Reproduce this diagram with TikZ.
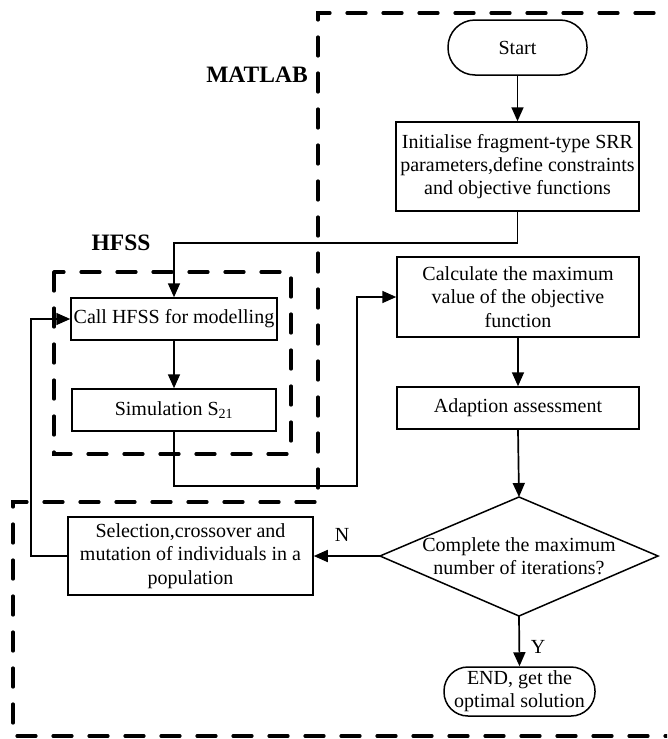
\documentclass[tikz,border=0pt]{standalone}
\usepackage{fontspec}
\setmainfont{Liberation Serif}
\usetikzlibrary{arrows.meta}
\tikzset{
  box/.style={draw,line width=1.5pt,inner sep=0pt,align=center,
    font=\fontsize{20}{23.3}\selectfont},
  term/.style={box,rounded corners=#1},
  conn/.style={line width=1.7pt,-{Triangle[length=14pt,width=12pt]}},
  outline/.style={line width=1.5pt,line join=miter},
  region/.style={line width=3.2pt,line cap=round,dash pattern=on 19pt off 17pt},
  tag/.style={inner sep=0pt,font=\fontsize{20}{23.3}\selectfont},
  bigtag/.style={inner sep=0pt,font=\fontsize{23.5}{26}\selectfont\bfseries}
}
\begin{document}
\begin{tikzpicture}[x=1pt,y=-1pt]
\useasboundingbox (0,0) rectangle (667,739);
% regions
\begin{scope}
\clip (0,0) rectangle (667,739);
\draw[region] (690,13) -- (318,13) -- (318,502) -- (13,502) -- (13,736) -- (690,736);
\draw[region] (54,272) rectangle (291,454);
\end{scope}
\node[bigtag] (matlab) at (257,75) {MATLAB};
\node[bigtag] (hfss) at (121,243) {HFSS};
% nodes
\node[term=27pt,minimum width=139pt,minimum height=55pt] (start) at (517.5,47.5) {Start};
\node[box,minimum width=243pt,minimum height=89pt] (init) at (517.5,166.5)
  {Initialise fragment-type SRR\\parameters,define constraints\\and objective functions};
\node[box,minimum width=206pt,minimum height=42pt] (call) at (174,319) {Call HFSS for modelling};
\node[box,minimum width=204pt,minimum height=42pt] (sim) at (174,410) {Simulation S\textsubscript{21}};
\node[box,minimum width=242pt,minimum height=80pt] (calc) at (518,297)
  {Calculate the maximum\\value of the objective\\function};
\node[box,minimum width=242pt,minimum height=42pt] (adapt) at (518,408) {Adaption assessment};
% decision diamond
\coordinate (dtop) at (519,497);
\coordinate (dright) at (658,556);
\coordinate (dbot) at (519,616);
\coordinate (dleft) at (380,556);
\draw[outline] (dtop) -- (dright) -- (dbot) -- (dleft) -- cycle;
\node[tag,align=center] (cond) at (519,556) {Complete the maximum\\number of iterations?};
\node[box,minimum width=245pt,minimum height=78pt] (sel) at (190.5,556)
  {Selection,crossover and\\mutation of individuals in a\\population};
\node[term=24pt,minimum width=151pt,minimum height=49pt] (end) at (519.5,691.5)
  {END, get the\\optimal solution};
% coordinates
\coordinate (j1) at (174,243);
\coordinate (j2) at (357,486);
\coordinate (j3) at (31,556);
% connectors
\draw[conn] (start) -- (init);
\draw[conn] (init.south) |- (j1) -- (call.north);
\draw[conn] (call) -- (sim);
\draw[conn] (sim.south) |- (j2) |- (calc.west);
\draw[conn] (calc) -- (adapt);
\draw[conn] (adapt.south) -- (dtop);
\draw[conn] (dleft) -- (sel.east);
\draw[conn] (dbot) -- (end.north);
\draw[conn] (sel.west) -- (j3) |- (call.west);
\node[tag] (nlab) at (342,535) {N};
\node[tag] (ylab) at (538,647) {Y};
\end{tikzpicture}
\end{document}
